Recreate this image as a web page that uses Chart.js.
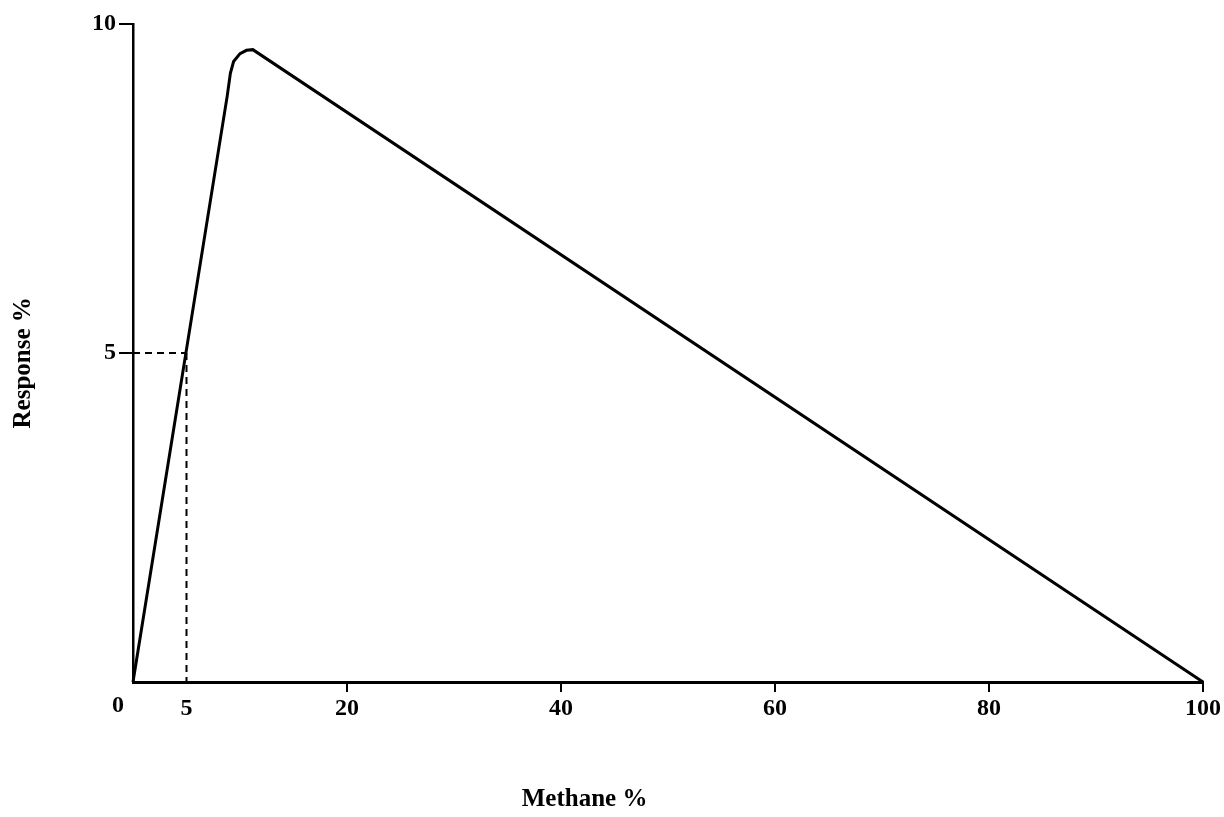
<!DOCTYPE html>
<html>
<head>
<meta charset="utf-8">
<script src="https://cdn.jsdelivr.net/npm/chart.js@4/dist/chart.umd.min.js"></script>
<style>
html,body{margin:0;padding:0;background:#fff;}
canvas{display:block;}
</style>
</head>
<body>
<canvas id="c" width="1224" height="817"></canvas>
<script>
// Response curve (Methane %, Response %)
const methane  = [0, 8.8, 9.1, 9.4, 10.0, 10.6, 11.2, 100];
const response = [0, 8.9, 9.25, 9.43, 9.55, 9.6, 9.61, 0];
// Dashed guide lines at 5 %
const guideH_x = [0, 5];
const guideH_y = [5, 5];
const guideV_x = [5, 5];
const guideV_y = [5, 0];
// Tick labels
const xTicks = [0, 5, 20, 40, 60, 80, 100];
const yTicks = [5, 10];
const xTitle = 'Methane %';
const yTitle = 'Response %';

const toPts = (xs, ys) => xs.map((x, i) => ({x: x, y: ys[i]}));
const FONT = "'Liberation Serif', 'DejaVu Serif', serif";

const extraText = {
  id: 'extraText',
  afterDraw(chart) {
    const ctx = chart.ctx;
    const xs = chart.scales.x;
    const ys = chart.scales.y;
    ctx.save();
    ctx.fillStyle = '#000';
    ctx.textAlign = 'center';
    ctx.textBaseline = 'middle';
    // origin label
    ctx.font = 'bold 24px ' + FONT;
    ctx.fillText('0', xs.getPixelForValue(0) - 15, xs.top + 24);
    // axis titles
    ctx.font = 'bold 25px ' + FONT;
    ctx.fillText(xTitle, xs.getPixelForValue(42.2), 800);
    ctx.translate(24, ys.getPixelForValue(4.85));
    ctx.rotate(-Math.PI / 2);
    ctx.fillText(yTitle, 0, 0);
    ctx.restore();
  }
};

new Chart(document.getElementById('c'), {
  type: 'line',
  data: {
    datasets: [
      {data: toPts(methane, response), borderColor: '#000', borderWidth: 3, pointRadius: 0, tension: 0, fill: false},
      {data: toPts(guideH_x, guideH_y), borderColor: '#000', borderWidth: 2, borderDash: [7, 5], pointRadius: 0, fill: false},
      {data: toPts(guideV_x, guideV_y), borderColor: '#000', borderWidth: 2, borderDash: [7, 5], pointRadius: 0, fill: false}
    ]
  },
  options: {
    responsive: false,
    animation: false,
    events: [],
    clip: false,
    layout: {padding: {top: 24, right: 21, left: 0, bottom: 0}},
    plugins: {legend: {display: false}, tooltip: {enabled: false}},
    scales: {
      x: {
        type: 'linear', min: 0, max: 100,
        afterBuildTicks: s => { s.ticks = xTicks.map(v => ({value: v})); },
        afterFit: s => { s.height = 135; },
        ticks: {
          color: '#000', font: {family: FONT, size: 24, weight: 'bold'}, padding: 2, maxRotation: 0, autoSkip: false,
          callback: v => (v === 0 ? '' : String(v))
        },
        grid: {
          drawOnChartArea: false, tickLength: 10, lineWidth: 2,
          color: c => (c.tick && (c.tick.value === 0 || c.tick.value === 5)) ? 'rgba(0,0,0,0)' : '#000'
        },
        border: {display: true, color: '#000', width: 3},
        title: {display: false}
      },
      y: {
        type: 'linear', min: 0, max: 10,
        afterBuildTicks: s => { s.ticks = yTicks.map(v => ({value: v})); },
        afterFit: s => { s.width = 133; },
        ticks: {color: '#000', font: {family: FONT, size: 24, weight: 'bold'}, padding: 3, autoSkip: false},
        grid: {drawOnChartArea: false, tickLength: 14, lineWidth: 2, color: '#000'},
        border: {display: true, color: '#000', width: 2.5},
        title: {display: false}
      }
    }
  },
  plugins: [extraText]
});
</script>
</body>
</html>
